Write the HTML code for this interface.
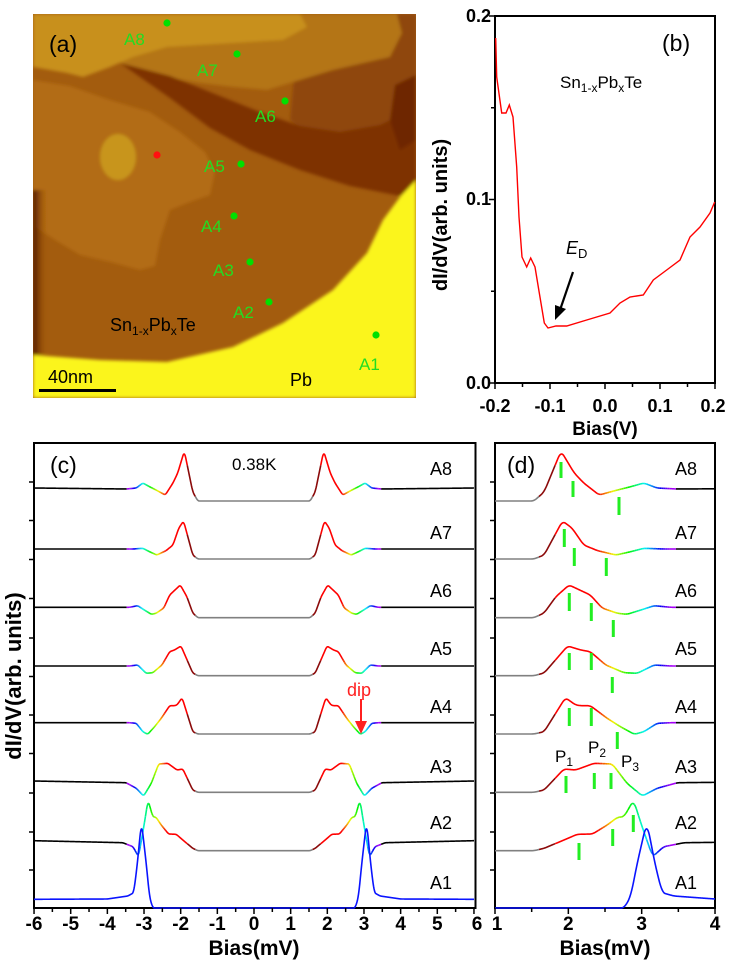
<!DOCTYPE html>
<html><head><meta charset="utf-8"><style>
html,body{margin:0;padding:0;background:#fff;}
svg{display:block;font-family:"Liberation Sans",sans-serif;}
.b{font-weight:bold;}
</style></head><body>
<svg id="s" width="734" height="968" viewBox="0 0 734 968" xmlns="http://www.w3.org/2000/svg">
<defs>
<clipPath id="ca"><rect x="33" y="14" width="383" height="384"/></clipPath>
<clipPath id="cd"><rect x="495" y="443" width="220" height="466"/></clipPath>
<filter id="bl"><feGaussianBlur stdDeviation="1.6"/></filter>
<linearGradient id="lg" x1="0" x2="1" y1="0" y2="0"><stop offset="0" stop-color="#4a1402"/><stop offset="1" stop-color="#9c520c" stop-opacity="0"/></linearGradient>
</defs>
<!-- Panel a -->
<g clip-path="url(#ca)">
<rect x="33" y="14" width="383" height="384" fill="#a35c0e"/>
<g filter="url(#bl)">
<polygon fill="#8f460a" points="300,14 416,14 416,190 380,180 330,150 290,120"/>
<polygon fill="#b47414" points="33,14 397,14 402,33 390,57 333,70 300,80 267,90 233,87 200,83 167,77 133,67 100,57 33,57"/>
<polygon fill="#c8901b" points="33,14 300,14 307,27 283,40 233,43 167,47 133,57 110,67 83,77 67,73 33,67"/>
<polygon fill="#7e3306" points="120,63 170,76 220,96 260,112 300,126 340,132 380,125 416,108 416,188 400,196 350,186 300,170 250,150 210,128 170,98"/>
<polygon fill="#6e2604" points="395,85 416,75 416,140 400,150 390,120"/>
<polygon fill="#b26c12" points="33,80 70,86 110,100 150,112 180,132 205,152 215,172 210,195 190,202 170,210 160,240 155,266 140,270 110,262 80,255 55,240 40,230 33,225"/>
<ellipse cx="118" cy="157" rx="18" ry="23" fill="#c8951c"/>
<rect x="33" y="190" width="14" height="170" fill="url(#lg)"/>
<polygon fill="#fbf51c" points="33,355 100,360 167,362 233,347 283,323 333,290 367,253 383,220 400,197 416,180 416,398 33,398"/>
</g>
</g>
<g fill="#00e000">
<circle cx="167" cy="23" r="3.6"/><circle cx="237" cy="54" r="3.6"/><circle cx="285" cy="101" r="3.6"/>
<circle cx="241" cy="164" r="3.6"/><circle cx="234" cy="216" r="3.6"/><circle cx="250" cy="262" r="3.6"/>
<circle cx="269" cy="302" r="3.6"/><circle cx="376" cy="335" r="3.6"/>
</g>
<circle cx="157" cy="155" r="3.6" fill="#ff1010"/>
<g fill="#22dd22" font-size="17">
<text x="124" y="45">A8</text><text x="197" y="76">A7</text><text x="255" y="122">A6</text>
<text x="204" y="172">A5</text><text x="201" y="232">A4</text><text x="213" y="276">A3</text>
<text x="233" y="318">A2</text><text x="359" y="370">A1</text>
</g>
<text x="49" y="52" font-size="23">(a)</text>
<text x="110" y="331" font-size="18">Sn<tspan font-size="12" dy="4">1-x</tspan><tspan dy="-4">Pb</tspan><tspan font-size="12" dy="4">x</tspan><tspan dy="-4">Te</tspan></text>
<text x="290" y="386" font-size="18">Pb</text>
<text x="48" y="383" font-size="18">40nm</text>
<rect x="39" y="389" width="77" height="3" fill="#000"/>

<!-- Panel b -->
<rect x="495" y="16" width="220" height="367" fill="none" stroke="#000" stroke-width="2"/>
<g stroke="#000" stroke-width="1.5" id="btick"></g>
<g class="b" font-size="18" text-anchor="end">
<text x="491" y="22">0.2</text><text x="491" y="205">0.1</text><text x="491" y="389">0.0</text>
</g>
<g class="b" font-size="18" text-anchor="middle">
<text x="495" y="412">-0.2</text><text x="550" y="412">-0.1</text><text x="605" y="412">0.0</text><text x="660" y="412">0.1</text><text x="713" y="412">0.2</text>
</g>
<text class="b" x="605" y="435" font-size="19" text-anchor="middle">Bias(V)</text>
<text class="b" font-size="20" text-anchor="middle" transform="translate(447,215) rotate(-90)">dI/dV(arb. units)</text>
<text x="662" y="51" font-size="23">(b)</text>
<text x="560" y="88" font-size="17">Sn<tspan font-size="12" dy="4">1-x</tspan><tspan dy="-4">Pb</tspan><tspan font-size="12" dy="4">x</tspan><tspan dy="-4">Te</tspan></text>
<text x="566" y="254" font-size="18" font-style="italic">E<tspan font-style="normal" font-size="13" dy="4">D</tspan></text>
<line x1="573" y1="272" x2="560" y2="310" stroke="#000" stroke-width="2.2"/>
<polygon points="555,320 555,305 566,309" fill="#000"/>
<path id="pb" fill="none" stroke="#ff0000" stroke-width="1.4" d="M495.7,38 L496.7,77 L501.7,113 L506,113 L509.3,105 L513,117 L516.7,167 L519,217 L522,257 L526.7,267 L530.7,258 L535,267 L539.3,293 L544.3,323 L548,328 L556,326 L566.7,326 L586.7,320 L610,313 L620,303 L630,297 L643.3,295 L653.3,280 L666.7,270 L680,260 L690,237 L700,227 L710,213 L714.7,202"/>

<!-- Panels c and d frames -->
<rect x="34" y="443" width="441.5" height="465" fill="none" stroke="#000" stroke-width="2"/>
<rect x="495" y="443" width="220" height="465" fill="none" stroke="#000" stroke-width="2"/>
<g id="curves"></g>
<g id="ticks" stroke="#000" stroke-width="1.5"></g>
<g class="b" font-size="19" text-anchor="middle">
<text x="34" y="930">-6</text><text x="70.7" y="930">-5</text><text x="107.3" y="930">-4</text><text x="144" y="930">-3</text>
<text x="180.7" y="930">-2</text><text x="217.3" y="930">-1</text><text x="254" y="930">0</text><text x="290.7" y="930">1</text>
<text x="327.3" y="930">2</text><text x="364" y="930">3</text><text x="400.7" y="930">4</text><text x="437.3" y="930">5</text>
<text x="477" y="930">6</text>
<text x="497" y="930">1</text><text x="568.3" y="930">2</text><text x="641.7" y="930">3</text><text x="715" y="930">4</text>
</g>
<text class="b" x="254" y="955" font-size="21" text-anchor="middle">Bias(mV)</text>
<text class="b" x="605" y="955" font-size="21" text-anchor="middle">Bias(mV)</text>
<text class="b" font-size="22" text-anchor="middle" transform="translate(21,676) rotate(-90)">dI/dV(arb. units)</text>
<text x="50" y="473" font-size="23">(c)</text>
<text x="507" y="473" font-size="23">(d)</text>
<text x="232" y="470" font-size="17">0.38K</text>
<g font-size="18">
<text x="430" y="475">A8</text><text x="430" y="539">A7</text><text x="430" y="597">A6</text><text x="430" y="655">A5</text>
<text x="430" y="713">A4</text><text x="430" y="773">A3</text><text x="430" y="829">A2</text><text x="430" y="889">A1</text>
<text x="675" y="475">A8</text><text x="675" y="539">A7</text><text x="675" y="597">A6</text><text x="675" y="655">A5</text>
<text x="675" y="713">A4</text><text x="675" y="773">A3</text><text x="675" y="829">A2</text><text x="675" y="889">A1</text>
</g>
<text x="347" y="696" font-size="18" fill="#ff2020">dip</text>
<line x1="361" y1="699" x2="361" y2="724" stroke="#ff2020" stroke-width="2"/>
<polygon points="355,721 367,721 361,734" fill="#ff2020"/>
<g font-size="17">
<text x="555" y="762">P<tspan font-size="12" dy="4">1</tspan></text>
<text x="588" y="753">P<tspan font-size="12" dy="4">2</tspan></text>
<text x="621" y="767">P<tspan font-size="12" dy="4">3</tspan></text>
</g>
<g id="marks" stroke="#22ee22" stroke-width="3"></g>
</svg>
<script>
(function(){
var NS="http://www.w3.org/2000/svg";
function el(p,t,a){var e=document.createElementNS(NS,t);for(var k in a)e.setAttribute(k,a[k]);p.appendChild(e);return e;}
var C=[
[[0,501],[1.53,501],[1.67,492],[1.9,451],[2.08,473],[2.21,483],[2.42,495],[2.67,490],[2.85,486.7],[3.03,483],[3.21,488],[3.48,489],[6,488]],
[[0,559],[1.53,559],[1.67,555],[1.92,521],[2.05,528],[2.21,545],[2.40,550.7],[2.65,555],[2.85,551.7],[3.03,548.3],[3.3,549],[6,549]],
[[0,617.7],[1.53,617.7],[1.67,613],[1.83,596.7],[2.01,585],[2.30,595],[2.46,608],[2.67,613.3],[2.80,614.3],[2.99,610],[3.17,605.7],[3.4,607.3],[6,607.3]],
[[0,675.7],[1.53,675.7],[1.67,673],[1.99,646],[2.17,650],[2.30,651.7],[2.51,665],[2.76,672.7],[2.94,673.3],[3.17,665],[3.4,666],[6,666]],
[[0,734],[1.53,734],[1.67,731.7],[1.96,697.7],[2.10,705],[2.17,705.7],[2.30,705.7],[2.53,718.3],[2.71,726.7],[2.90,734.3],[3.03,731.7],[3.21,723.3],[3.4,722.7],[6,722.7]],
[[0,792.3],[1.53,792.3],[1.67,790],[1.94,769],[2.10,770],[2.35,763.3],[2.60,764],[2.80,783.3],[3.01,796],[3.21,788.3],[3.49,782.7],[6,781]],
[[0,850.7],[1.53,850.7],[1.67,848.3],[1.94,840],[2.12,834.3],[2.33,834],[2.53,825],[2.67,817.3],[2.76,816.7],[2.89,800],[2.99,823.3],[3.15,856.7],[3.30,846.7],[3.58,842.7],[6,840.7]],
[[0,908],[2.76,908],[2.85,896.7],[2.94,863],[3.07,821.7],[3.19,866.7],[3.28,892.7],[3.44,896],[4,899],[6,899.3]]
];
function interp(P,v){v=Math.abs(v);for(var i=1;i<P.length;i++){if(v<=P[i][0]){var a=P[i-1],b=P[i];var t=(v-a[0])/(b[0]-a[0]);return a[1]+t*(b[1]-a[1]);}}return P[P.length-1][1];}
function col(v,blue){v=Math.abs(v);if(blue)return "#0a14ff";if(v<1.6)return "#808080";if(v<1.82)return "#8b0a0a";if(v>3.47)return "#000";if(v<2.4)return "#ff0000";
 var h=Math.min(1,(v-2.4)/1.0)*280;h=Math.round(h/8)*8;return "hsl("+h+",100%,48%)";}
var g=document.getElementById("curves");
var step=0.004,W=10;
C.forEach(function(P,ci){
 var vs=[],ys=[];for(var v=-6;v<=6.0001;v+=step){vs.push(v);ys.push(interp(P,v));}
 var sm=[];for(var i=0;i<ys.length;i++){var s=0,n=0;for(var j=i-W;j<=i+W;j++){if(j>=0&&j<ys.length){s+=ys[j];n++;}}sm.push(s/n);}
 [["c",function(v){return 254+36.67*v;},-6,6],["d",function(v){return 495+73.33*(v-1);},0.95,4.05]].forEach(function(pp){
  var grp=pp[0]=="d"?el(g,"g",{"clip-path":"url(#cd)"}):g;
  var cur=null,d="",last=null;
  for(var i=0;i<vs.length;i++){var v=vs[i];if(v<pp[2]||v>pp[3])continue;
   var x=pp[1](v).toFixed(2),y=sm[i].toFixed(2);var c=col(v,ci==7);
   if(c!==cur){if(cur){el(grp,"path",{d:d,stroke:cur,fill:"none","stroke-width":1.6});}cur=c;d=last?("M"+last+" L"+x+","+y):("M"+x+","+y);}
   else d+=" L"+x+","+y;last=x+","+y;}
  el(grp,"path",{d:d,stroke:cur,fill:"none","stroke-width":1.6});
 });
});
var t=document.getElementById("ticks");
[482,520.5,559.5,598.5,638,676.5,715,753.5,793,832,870].forEach(function(y){el(t,"line",{x1:29,x2:34,y1:y,y2:y});el(t,"line",{x1:490,x2:495,y1:y,y2:y});});
for(var k=-12;k<=12;k++){var x=254+18.33*k;el(t,"line",{x1:x,x2:x,y1:908,y2:k%2?912:914});}
for(var k=0;k<=6;k++){var x=495+36.67*k;el(t,"line",{x1:x,x2:x,y1:908,y2:k%2?912:914});}
var bt=document.getElementById("btick");
[16,107.75,199.5,291.25,383].forEach(function(y,i){el(bt,"line",{x1:i%2?491:489,x2:495,y1:y,y2:y});});
for(var k=0;k<=8;k++){var x=495+27.5*k;el(bt,"line",{x1:x,x2:x,y1:383,y2:k%2?387:389});}
var m=document.getElementById("marks");
[[561,462,478],[573,481,497],[619,497,515],[564.3,529,547],[574.3,548,566],[606.3,558,576],[569.3,593,611],[591.3,603,621],[613.3,620,637],
 [569.3,653,670],[591.3,653,670],[612.3,677,693],[569.3,708,726],[591.3,708,726],[617.3,732,749],[566,776,793],[594.3,773,789],[611,773,789],
 [579,843,860],[612.7,829,846],[633.3,815,832]].forEach(function(a){el(m,"line",{x1:a[0],x2:a[0],y1:a[1],y2:a[2]});});
})();
</script>
</body></html>
